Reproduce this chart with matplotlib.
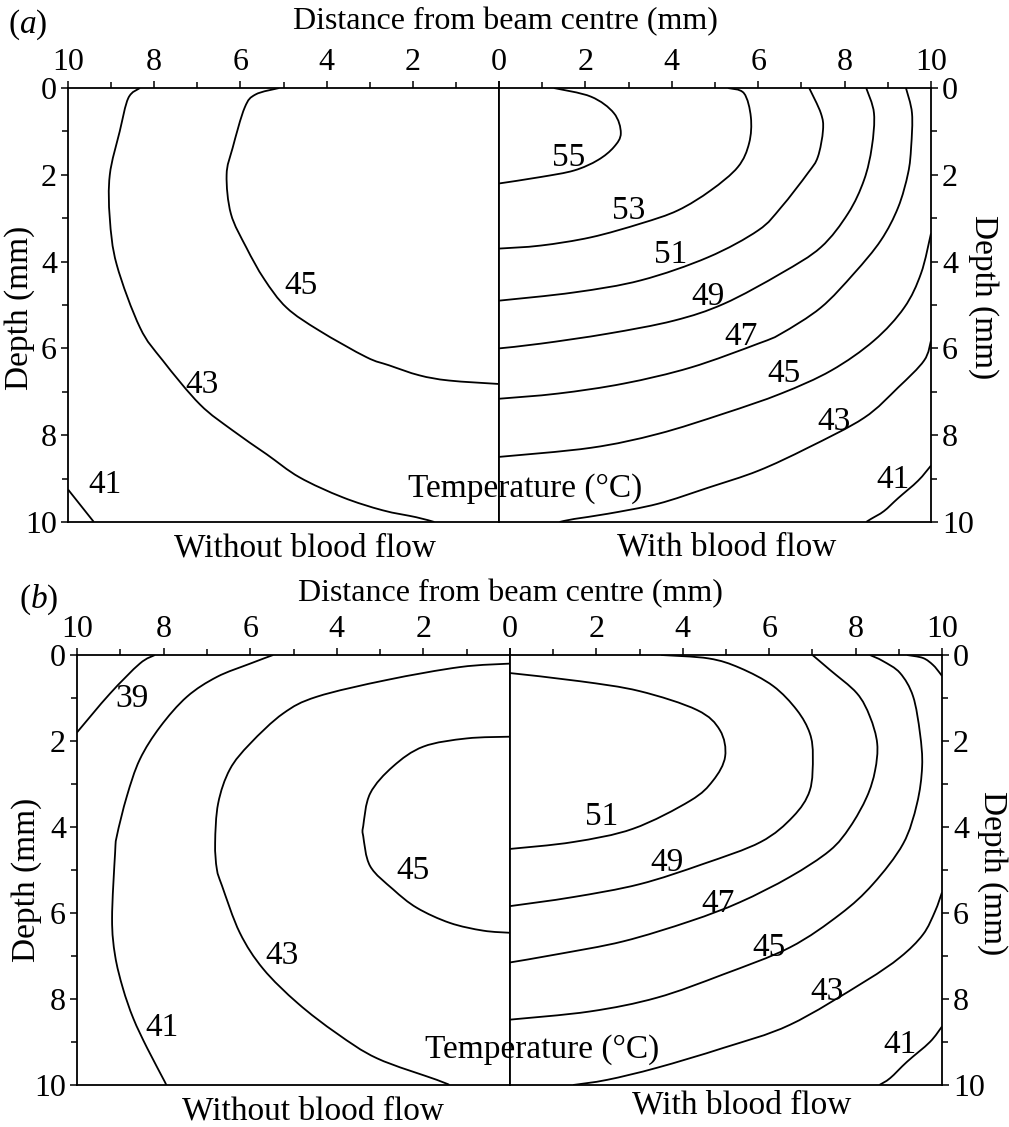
import matplotlib
matplotlib.use("Agg")
import matplotlib.pyplot as plt
from matplotlib.path import Path
from matplotlib.patches import PathPatch

plt.rcParams['font.family'] = ['Liberation Serif', 'DejaVu Serif']
plt.rcParams['mathtext.fontset'] = 'custom'
plt.rcParams['mathtext.rm'] = 'Liberation Serif'
plt.rcParams['mathtext.it'] = 'Liberation Serif:italic'

# isotherms, points are (distance from centre mm, depth mm)
# panel (a), without blood flow
a_nf_45 = [(5.1, 0.0), (5.65, 0.15), (5.9, 0.45), (6.18, 1.38), (6.32, 2.0), (6.22, 2.9),
           (5.86, 3.68), (5.45, 4.4), (4.93, 5.06), (4.17, 5.59), (3.08, 6.2), (2.55, 6.39),
           (1.85, 6.62), (1.16, 6.74), (0.0, 6.82)]
a_nf_43 = [(8.33, 0.0), (8.6, 0.23), (8.8, 1.0), (9.03, 2.0), (9.03, 3.0), (8.87, 4.07),
           (8.33, 5.52), (7.8, 6.28), (6.94, 7.29), (6.18, 7.89), (5.39, 8.44),
           (4.63, 8.97), (3.63, 9.43), (2.7, 9.73), (1.92, 9.89), (1.5, 10.0)]
a_nf_41 = [(10.0, 9.25), (9.4, 10.0)]

# panel (a), with blood flow
a_bf_55 = [(1.27, 0.0), (2.13, 0.2), (2.66, 0.58), (2.82, 1.04), (2.66, 1.36), (2.29, 1.66),
           (1.74, 1.9), (0.97, 2.05), (0.0, 2.2)]
a_bf_53 = [(5.3, 0.0), (5.67, 0.12), (5.83, 0.67), (5.79, 1.27), (5.53, 1.82), (4.9, 2.36),
           (4.14, 2.82), (3.29, 3.12), (2.13, 3.44), (0.97, 3.63), (0.0, 3.7)]
a_bf_51 = [(7.18, 0.0), (7.45, 0.58), (7.5, 0.97), (7.38, 1.59), (7.15, 1.96), (6.53, 2.75),
           (6.0, 3.28), (4.84, 3.9), (3.29, 4.43), (1.74, 4.71), (0.0, 4.9)]
a_bf_49 = [(8.5, 0.0), (8.68, 0.58), (8.63, 1.36), (8.45, 2.12), (8.08, 2.89), (7.45, 3.67),
           (6.53, 4.27), (5.21, 4.97), (4.05, 5.36), (2.52, 5.66), (0.97, 5.89), (0.0, 6.0)]
a_bf_47 = [(9.42, 0.0), (9.56, 0.58), (9.54, 1.36), (9.47, 1.96), (9.24, 2.75), (8.84, 3.51),
           (8.22, 4.27), (7.45, 5.06), (6.53, 5.66), (6.0, 5.89), (4.44, 6.44), (2.89, 6.81),
           (1.37, 7.04), (0.0, 7.16)]
a_bf_45 = [(10.0, 3.35), (9.77, 4.27), (9.38, 5.06), (8.68, 5.82), (7.69, 6.51), (6.53, 7.04),
           (5.21, 7.5), (3.68, 7.97), (2.13, 8.29), (0.0, 8.5)]
a_bf_43 = [(10.0, 5.82), (9.84, 6.28), (9.24, 6.9), (8.45, 7.6), (7.15, 8.29), (6.0, 8.82),
           (4.84, 9.21), (3.68, 9.58), (2.52, 9.81), (1.74, 9.93), (1.4, 10.0)]
a_bf_41 = [(10.0, 8.7), (9.7, 9.05), (9.24, 9.45), (8.91, 9.75), (8.61, 9.93), (8.5, 10.0)]

# panel (b), without blood flow
b_nf_45 = [(0.0, 1.9), (1.0, 1.94), (2.0, 2.13), (2.7, 2.59), (3.23, 3.22), (3.39, 3.98),
           (3.39, 4.21), (3.23, 4.91), (2.7, 5.45), (2.15, 5.88), (1.39, 6.23), (0.62, 6.41),
           (0.0, 6.46)]
b_nf_43 = [(0.0, 0.2), (1.15, 0.28), (2.84, 0.58), (4.46, 0.97), (5.24, 1.36), (6.0, 2.06),
           (6.47, 2.66), (6.74, 3.45), (6.81, 4.37), (6.77, 4.98), (6.65, 5.37), (6.24, 6.46),
           (5.7, 7.3), (4.9, 8.1), (4.0, 8.8), (3.07, 9.38), (1.69, 9.88), (1.4, 10.0)]
b_nf_41 = [(5.47, 0.0), (6.0, 0.2), (6.77, 0.51), (7.46, 0.97), (8.08, 1.67), (8.55, 2.43),
           (8.85, 3.29), (9.08, 4.21), (9.12, 4.6), (9.19, 6.13), (9.12, 6.99), (8.94, 7.75),
           (8.7, 8.45), (8.38, 9.14), (7.97, 9.93), (7.95, 10.0)]
b_nf_39 = [(8.2, 0.0), (8.55, 0.2), (9.24, 0.9), (10.0, 1.8)]

# panel (b), with blood flow
b_bf_51 = [(0.0, 0.42), (1.62, 0.61), (3.0, 0.84), (4.33, 1.28), (4.86, 1.75), (4.98, 2.36),
           (4.7, 2.92), (4.17, 3.39), (2.85, 4.04), (1.46, 4.35), (0.0, 4.51)]
b_bf_49 = [(3.5, 0.0), (4.6, 0.08), (5.32, 0.3), (6.09, 0.72), (6.64, 1.28), (6.94, 1.82),
           (7.01, 2.36), (6.94, 3.15), (6.55, 3.76), (5.8, 4.35), (4.47, 4.86),
           (3.0, 5.33), (1.46, 5.63), (0.0, 5.84)]
b_bf_47 = [(7.0, 0.0), (7.41, 0.35), (8.03, 0.89), (8.33, 1.43), (8.5, 2.06), (8.45, 2.69),
           (8.26, 3.3), (7.87, 4.0), (7.4, 4.55), (6.48, 5.16), (5.32, 5.75), (4.17, 6.19),
           (2.62, 6.66), (1.09, 6.96), (0.0, 7.15)]
b_bf_45 = [(8.33, 0.0), (8.63, 0.14), (9.03, 0.42), (9.33, 0.96), (9.49, 1.82), (9.54, 2.59),
           (9.42, 3.46), (9.1, 4.39), (8.4, 5.33), (7.64, 6.03), (6.48, 6.8), (4.93, 7.43),
           (3.4, 7.97), (1.85, 8.29), (0.0, 8.48)]
b_bf_43_top = [(9.19, 0.0), (9.56, 0.07), (9.79, 0.23), (9.95, 0.42), (10.0, 0.49)]
b_bf_43 = [(10.0, 5.52), (9.84, 5.96), (9.56, 6.5), (9.03, 7.03), (8.2, 7.6),
           (6.48, 8.6), (4.93, 9.14), (3.4, 9.6), (2.25, 9.88), (1.46, 10.0)]
b_bf_41 = [(10.0, 8.64), (9.72, 9.0), (9.19, 9.46), (8.8, 9.84), (8.55, 10.0)]

# contour labels: (text, distance, depth)
a_nf_labels = [("45", 4.6, 4.55), ("43", 6.88, 6.83), ("41", 9.14, 9.15)]
a_bf_labels = [("55", 1.62, 1.6), ("53", 2.99, 2.83), ("51", 3.98, 3.85), ("49", 4.84, 4.8),
               ("47", 5.6, 5.73), ("45", 6.6, 6.59), ("43", 7.75, 7.68), ("41", 9.12, 9.03)]
b_nf_labels = [("39", 8.73, 1.02), ("45", 2.24, 5.02), ("43", 5.27, 6.99), ("41", 8.04, 8.68)]
b_bf_labels = [("51", 2.13, 3.76), ("49", 3.63, 4.82), ("47", 4.81, 5.79), ("45", 6.0, 6.8),
               ("43", 7.34, 7.83), ("41", 9.03, 9.07)]

W, H = 1009, 1127
FS = 24
TICK_FS = 23


def box(x0, x1, ytop, ybot):
    return [x0 / W, 1 - ybot / H, (x1 - x0) / W, (ybot - ytop) / H]


def setup_half(ax, left):
    if left:
        ax.set_xlim(10, 0)
    else:
        ax.set_xlim(0, 10)
    ax.set_ylim(10, 0)
    ax.set_xticks(range(0, 11, 2))
    ax.set_xticks(range(1, 10, 2), minor=True)
    ax.set_yticks(range(0, 11, 2))
    ax.set_yticks(range(1, 10, 2), minor=True)
    ax.xaxis.tick_top()
    if left:
        ax.yaxis.tick_left()
    else:
        ax.yaxis.tick_right()
        ax.set_xticklabels(['', '2', '4', '6', '8', '10'])
    ax.tick_params(which='major', direction='out', length=5, width=1.1,
                   labelsize=TICK_FS, pad=3)
    ax.tick_params(which='minor', direction='out', length=4, width=1.1)
    for s in ax.spines.values():
        s.set_linewidth(1.3)


def smooth_path(pts):
    # curve through the read points (Catmull-Rom as cubic Bezier)
    n = len(pts)
    verts = [pts[0]]
    codes = [Path.MOVETO]
    for i in range(n - 1):
        p0 = pts[max(i - 1, 0)]
        p1 = pts[i]
        p2 = pts[i + 1]
        p3 = pts[min(i + 2, n - 1)]
        c1 = (p1[0] + (p2[0] - p0[0]) / 6, p1[1] + (p2[1] - p0[1]) / 6)
        c2 = (p2[0] - (p3[0] - p1[0]) / 6, p2[1] - (p3[1] - p1[1]) / 6)
        verts += [c1, c2, p2]
        codes += [Path.CURVE4] * 3
    return Path(verts, codes)


def draw_lines(ax, lines, labels):
    for pts in lines:
        ax.add_patch(PathPatch(smooth_path(pts), fill=False, edgecolor='black',
                               lw=1.3, joinstyle='round'))
    for txt, x, d in labels:
        ax.text(x, d, txt, fontsize=FS, ha='center', va='center')


fig = plt.figure(figsize=(W / 100, H / 100), dpi=100)

panels = [
    (box(68, 499, 88, 522), box(499, 931, 88, 522),
     [a_nf_45, a_nf_43, a_nf_41], a_nf_labels,
     [a_bf_55, a_bf_53, a_bf_51, a_bf_49, a_bf_47, a_bf_45, a_bf_43, a_bf_41], a_bf_labels),
    (box(77, 510, 655, 1085), box(510, 942, 655, 1085),
     [b_nf_45, b_nf_43, b_nf_41, b_nf_39], b_nf_labels,
     [b_bf_51, b_bf_49, b_bf_47, b_bf_45, b_bf_43_top, b_bf_43, b_bf_41], b_bf_labels),
]

for lbox, rbox, nf_lines, nf_labels, bf_lines, bf_labels in panels:
    axl = fig.add_axes(lbox)
    setup_half(axl, True)
    draw_lines(axl, nf_lines, nf_labels)
    axr = fig.add_axes(rbox)
    setup_half(axr, False)
    draw_lines(axr, bf_lines, bf_labels)


def ftext(px, py, s, size=FS, **kw):
    fig.text(px / W, 1 - py / H, s, fontsize=size, ha='center', va='center', **kw)


# panel (a) texts
ftext(28, 25, r"$(a)$")
ftext(505, 22, "Distance from beam centre (mm)", size=23)
ftext(20, 308, "Depth (mm)", rotation=90)
ftext(983, 297, "Depth (mm)", rotation=270)
ftext(305, 548, "Without blood flow")
ftext(727, 547, "With blood flow")
ftext(525, 489, "Temperature (°C)")

# panel (b) texts
ftext(39, 600, r"$(b)$")
ftext(510, 594, "Distance from beam centre (mm)", size=23)
ftext(27, 880, "Depth (mm)", rotation=90)
ftext(992, 873, "Depth (mm)", rotation=270)
ftext(313, 1111, "Without blood flow")
ftext(742, 1105, "With blood flow")
ftext(542, 1050, "Temperature (°C)")

plt.savefig("out.png", dpi=100)
